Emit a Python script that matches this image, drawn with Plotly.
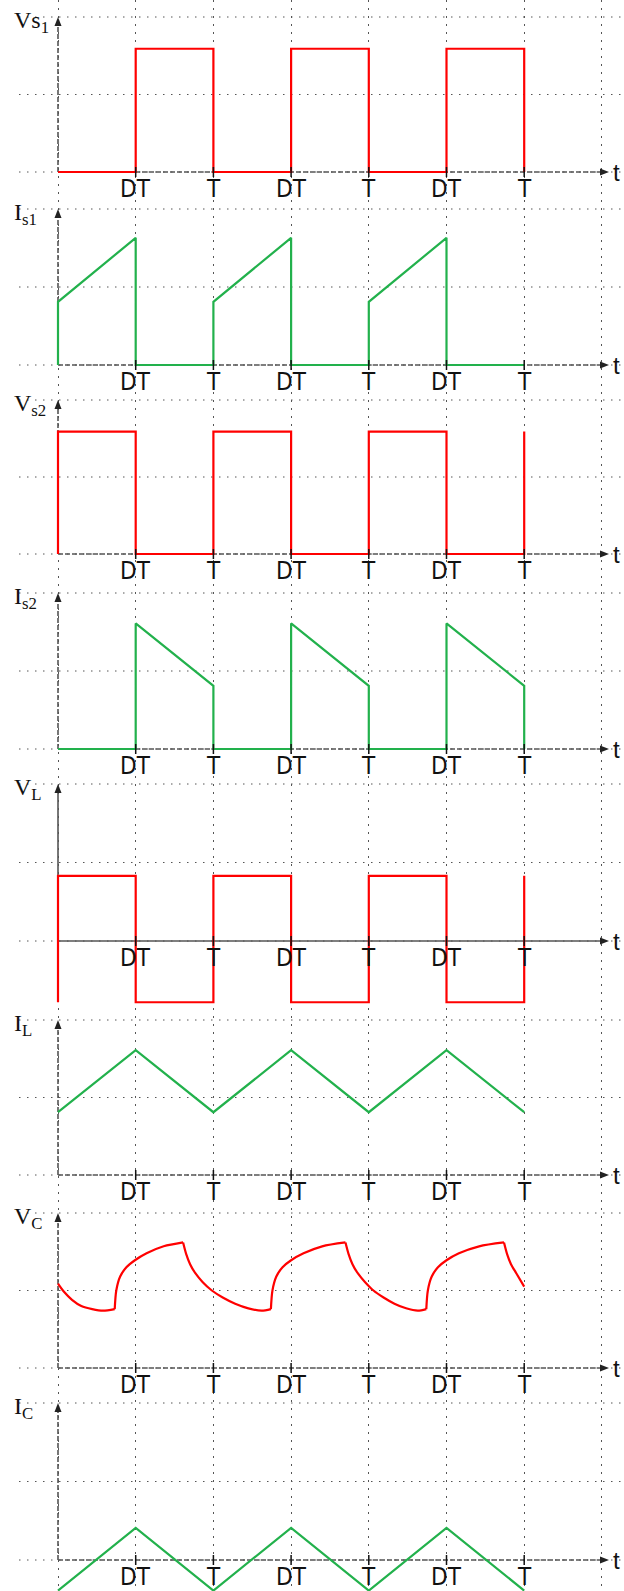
import plotly.graph_objects as go

W, H = 624, 1591
X_ORIGIN_PX = 58.0
CELL_X_PX = 77.7

RED = "#FF0000"
GREEN = "#22B14C"

# ---------------- data (time in grid cells: DT=1, T=2, ...; values in grid cells) -------------
tick_times = [1, 2, 3, 4, 5, 6]
tick_labels = ["DT", "T", "DT", "T", "DT", "T"]

panel_labels = ["Vs<sub>1</sub>", "I<sub>s1</sub>", "V<sub>s2</sub>", "I<sub>s2</sub>",
                "V<sub>L</sub>", "I<sub>L</sub>", "V<sub>C</sub>", "I<sub>C</sub>"]

vs1_t = [0, 1, 2, 3, 4, 5, 6]
vs1_v = [0, 1.59, 0, 1.59, 0, 1.59, 0]

is1_t = [0, 0, 1, 1, 2, 2, 3, 3, 4, 4, 5, 5, 6]
is1_v = [0, 0.81, 1.63, 0, 0, 0.81, 1.63, 0, 0, 0.81, 1.63, 0, 0]

vs2_t = [0, 0, 1, 2, 3, 4, 5, 6]
vs2_v = [0, 1.59, 0, 1.59, 0, 1.59, 0, 1.59]

is2_t = [0, 1, 1, 2, 2, 3, 3, 4, 4, 5, 5, 6, 6]
is2_v = [0, 0, 1.61, 0.81, 0, 0, 1.61, 0.81, 0, 0, 1.61, 0.81, 0]

vl_t = [0, 0, 1, 2, 3, 4, 5, 6]
vl_v = [-0.78, 0.83, -0.78, 0.83, -0.78, 0.83, -0.78, 0.83]

il_t = [0, 1, 2, 3, 4, 5, 6]
il_v = [0.81, 1.61, 0.81, 1.61, 0.81, 1.61, 0.81]

vc_t = [0.00, 0.08, 0.18, 0.30, 0.44, 0.58, 0.73, None,
        0.73, 0.75, 0.80, 0.88, 0.99, 1.14, 1.36, 1.61, None,
        1.61, 1.65, 1.70, 1.77, 1.86, 1.98, 2.12, 2.28, 2.45, 2.62, 2.74, None,
        2.74, 2.76, 2.81, 2.89, 3.00, 3.16, 3.40, 3.70, None,
        3.70, 3.74, 3.79, 3.86, 3.95, 4.06, 4.19, 4.33, 4.48, 4.63, 4.74, None,
        4.74, 4.76, 4.81, 4.89, 5.00, 5.16, 5.42, 5.74, None,
        5.74, 5.78, 5.83, 5.90, 6.00]
vc_v = [1.09, 0.98, 0.88, 0.80, 0.76, 0.74, 0.76, None,
        0.76, 1.00, 1.18, 1.30, 1.39, 1.48, 1.57, 1.62, None,
        1.62, 1.47, 1.34, 1.22, 1.11, 1.00, 0.91, 0.83, 0.77, 0.74, 0.76, None,
        0.76, 1.00, 1.18, 1.30, 1.39, 1.48, 1.57, 1.62, None,
        1.62, 1.47, 1.34, 1.22, 1.11, 1.00, 0.91, 0.83, 0.77, 0.74, 0.76, None,
        0.76, 1.00, 1.18, 1.30, 1.39, 1.48, 1.57, 1.62, None,
        1.62, 1.47, 1.34, 1.22, 1.05]

ic_t = [0, 1, 2, 3, 4, 5, 6]
ic_v = [-0.39, 0.41, -0.39, 0.41, -0.39, 0.41, -0.39]

series = [
    (vs1_t, vs1_v, RED, "hv"),
    (is1_t, is1_v, GREEN, "linear"),
    (vs2_t, vs2_v, RED, "hv"),
    (is2_t, is2_v, GREEN, "linear"),
    (vl_t, vl_v, RED, "hv"),
    (il_t, il_v, GREEN, "linear"),
    (vc_t, vc_v, RED, "spline"),
    (ic_t, ic_v, GREEN, "linear"),
]

# ---------------- layout geometry ----------------
panel_axis_px = [172, 365, 554, 749, 941, 1175, 1368, 1560]
panel_cell_px = [77.5, 78, 77, 78, 78.5, 77.5, 77.5, 78.5]
panel_axis_dash = ["5px,2px", "5px,2px", "5px,2px", "5px,2px", "solid",
                   "5px,2px", "5px,2px", "5px,2px"]


def px_to_t(px):
    return (px - X_ORIGIN_PX) / CELL_X_PX


DOT = "1.5px,6.5px"
GRID_C = "#555555"
AXIS_C = "#555555"
LABEL_FONT = dict(family="Liberation Serif, DejaVu Serif, serif", size=24, color="#111")
TICK_FONT = dict(family="Liberation Sans Narrow, DejaVu Sans Condensed, Arial Narrow, sans-serif",
                 size=24, color="#111")

fig = go.Figure()
layout = dict(
    width=W, height=H, margin=dict(l=0, r=0, t=0, b=0),
    paper_bgcolor="white", plot_bgcolor="white", showlegend=False,
    xaxis=dict(range=[px_to_t(0), px_to_t(W)], domain=[0, 1], showgrid=True, tick0=0, dtick=1,
               gridcolor=GRID_C, gridwidth=1, griddash=DOT, showticklabels=False,
               zeroline=False, showline=False, ticks="", anchor="y", fixedrange=True),
)
shapes = []
annotations = []

for k in range(8):
    y0 = panel_axis_px[k]
    c = panel_cell_px[k]
    yname = "yaxis" if k == 0 else f"yaxis{k + 1}"
    yref = "y" if k == 0 else f"y{k + 1}"
    ax = dict(domain=[0, 1], range=[-(H - y0) / c, y0 / c], visible=False, fixedrange=True,
              anchor="x")
    if k > 0:
        ax["overlaying"] = "y"
    layout[yname] = ax

    t, v, col, shape = series[k]
    fig.add_trace(go.Scatter(x=t, y=v, mode="lines", yaxis=yref, xaxis="x",
                             line=dict(color=col, width=2.2, shape=shape, smoothing=0.8),
                             connectgaps=False, hoverinfo="skip"))

    # horizontal dotted grid lines
    for gv in (0, 1, 2):
        shapes.append(dict(type="line", xref="x", yref=yref, x0=px_to_t(19), x1=px_to_t(W),
                           y0=gv, y1=gv, layer="below",
                           line=dict(color=GRID_C, width=1, dash=DOT)))
    # axes
    adash = panel_axis_dash[k]
    shapes.append(dict(type="line", xref="x", yref=yref, x0=0, x1=px_to_t(602), y0=0, y1=0,
                       layer="below", line=dict(color=AXIS_C, width=1.6, dash=adash)))
    shapes.append(dict(type="line", xref="x", yref=yref, x0=0, x1=0, y0=0, y1=2 - 6 / c,
                       layer="below", line=dict(color=AXIS_C, width=1.6, dash=adash)))
    # ticks
    for tt in tick_times:
        shapes.append(dict(type="line", xref="x", yref=yref, x0=tt, x1=tt, y0=5 / c, y1=-5 / c,
                           layer="above", line=dict(color="#111", width=1.5)))
    # arrow heads (pixel-sized paths anchored at the axis ends)
    shapes.append(dict(type="path", xref="x", yref=yref, xsizemode="pixel", ysizemode="pixel",
                       xanchor=0, yanchor=2, path="M-3.5,-9 L0,0 L3.5,-9 Z",
                       fillcolor="#222", line=dict(width=0), layer="above"))
    shapes.append(dict(type="path", xref="x", yref=yref, xsizemode="pixel", ysizemode="pixel",
                       xanchor=px_to_t(609), yanchor=0, path="M-9,-3.5 L0,0 L-9,3.5 Z",
                       fillcolor="#222", line=dict(width=0), layer="above"))
    annotations.append(dict(xref="x", yref=yref, x=px_to_t(611), y=0, text="t",
                            showarrow=False, xanchor="left", yanchor="middle",
                            font=dict(family="Liberation Sans, sans-serif", size=24, color="#111")))
    # tick labels
    for tt, lab in zip(tick_times, tick_labels):
        annotations.append(dict(xref="x", yref=yref, x=tt, y=0, text=lab, showarrow=False,
                                xanchor="center", yanchor="top", yshift=-1, font=TICK_FONT))
    # panel label
    annotations.append(dict(xref="paper", yref=yref, x=12 / W, y=2, text=panel_labels[k],
                            showarrow=False, xanchor="left", yanchor="middle", yshift=-5,
                            font=LABEL_FONT))

layout["shapes"] = shapes
layout["annotations"] = annotations
fig.update_layout(**layout)

fig.write_html("out.html", config={"displayModeBar": False},
               post_script="document.body.style.margin='0';")
